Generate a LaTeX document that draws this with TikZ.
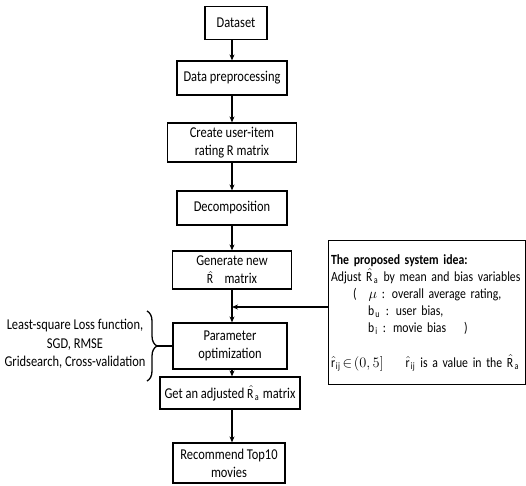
\documentclass[tikz,border=0pt]{standalone}
\usepackage{amsmath}
\usepackage{fontspec}
\setmainfont{Carlito}[FakeStretch=0.83]
\newfontfamily\ideafont{Carlito}[FakeStretch=0.84]
\usetikzlibrary{arrows.meta, positioning, calc, decorations.pathreplacing}

\newcommand{\mth}[1]{{\fontsize{14}{14}\selectfont$#1$}}
\newcommand{\Rhat}{\mth{\hat{\mathrm{R}}}}
\newcommand{\Ra}{\mth{\hat{\mathrm{R}}_{\mathrm{a}}}}
\newcommand{\rij}{\hat{\mathrm{r}}_{\mathrm{ij}}}

\begin{document}
\begin{tikzpicture}[x=1pt, y=-1pt,
	box/.style={draw, line width=1.2pt, align=center, inner sep=2pt, font=\fontsize{15}{18}\selectfont},
	flow/.style={-{Stealth[length=6pt, width=5pt]}, line width=1.2pt},
	txt/.style={align=center, font=\fontsize{15}{18.5}\selectfont}]
	
	\useasboundingbox (0,0) rectangle (526,485);
	
	% Main column
	\node[box, minimum width=62pt, minimum height=33pt] (data) at (236,23) {Dataset};
	\node[box, minimum width=110pt, minimum height=34pt] (prep) at (232,78) {Data preprocessing};
	\node[box, minimum width=129pt, minimum height=39pt] (rmat) at (232,142.5) {Create user-item\\rating R matrix};
	\node[box, minimum width=110pt, minimum height=34pt] (decomp) at (232,208) {Decomposition};
	\node[box, minimum width=119pt, minimum height=38pt] (gen) at (232,270) {Generate new\\\Rhat\hspace{10pt}matrix};
	\node[box, minimum width=114pt, minimum height=46pt] (param) at (230,346) {Parameter\\optimization};
	\node[box, minimum width=140pt, minimum height=32pt] (adj) at (230,393) {Get an adjusted \Ra\ matrix};
	\node[box, minimum width=112pt, minimum height=40pt] (rec) at (229,463) {Recommend Top10\\movies};
	
	% Arrows
	\draw[flow] (data.south -| 232,0) -- (prep.north -| 232,0);
	\draw[flow] (prep.south -| 232,0) -- (rmat.north -| 232,0);
	\draw[flow] (rmat.south -| 232,0) -- (decomp.north -| 232,0);
	\draw[flow] (decomp.south -| 232,0) -- (gen.north -| 232,0);
	\draw[flow] (gen.south -| 232,0) -- (param.north -| 232,0);
	\draw[flow] (param.south -| 232,0) -- (adj.north -| 232,0);
	\draw[flow] (adj.south -| 232,0) -- (rec.north -| 232,0);
	
	% Proposed idea
	\node[box, anchor=north west, align=left, minimum width=197pt, minimum height=144pt, text width=192pt, inner sep=2.5pt,
		font=\ideafont\fontsize{14}{17}\selectfont] (idea) at (328,240) {%
		\mbox{\bfseries The proposed system idea:}\\
		\mbox{Adjust \Ra\ by mean and bias variables}\\
		\mbox{\hspace{22pt}(\hspace{12pt}\mth{\mu} : overall average rating,}\\
		\mbox{\hspace{37pt}\mth{\mathrm{b}_{\mathrm{u}}} : user bias,}\\
		\mbox{\hspace{37pt}\mth{\mathrm{b}_{\mathrm{i}}} : movie bias\hspace{18pt})}\\[18pt]
		\mbox{\mth{\rij\!\in\!(0,5]}\hspace{22pt}\mth{\rij} is a value in the \Ra}};
	\coordinate (join) at (232,307);
	\draw[flow] (idea.west |- join) -- (join);
	
	% Tools brace
	\node[txt] (tools) at (75,344) {Least-square Loss function,\\SGD, RMSE\\Gridsearch, Cross-validation};
	\draw[line width=1.3pt, decorate, decoration={brace, amplitude=10pt}] (147,311) -- (147,381);
	\coordinate (tip) at (157,346);
	\draw[line width=1.2pt] (tip) -- (param.west);
	
\end{tikzpicture}
\end{document}
